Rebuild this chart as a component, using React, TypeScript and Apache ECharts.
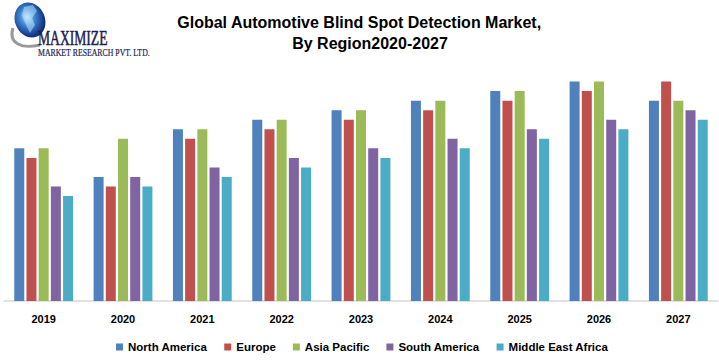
import React, { useEffect, useRef } from "react";
import * as echarts from "echarts";

const years = ["2019", "2020", "2021", "2022", "2023", "2024", "2025", "2026", "2027"];
const regions = ["North America", "Europe", "Asia Pacific", "South America", "Middle East Africa"];
const colors = ["#4F81BD", "#C0504D", "#9BBB59", "#8064A2", "#4BACC6"];

const northAmerica = [16, 13, 18, 19, 20, 21, 22, 23, 21];
const europe = [15, 12, 17, 18, 19, 20, 21, 22, 23];
const asiaPacific = [16, 17, 18, 19, 20, 21, 22, 23, 21];
const southAmerica = [12, 13, 14, 15, 16, 17, 18, 19, 20];
const middleEastAfrica = [11, 12, 13, 14, 15, 16, 17, 18, 19];

const seriesValues = [northAmerica, europe, asiaPacific, southAmerica, middleEastAfrica];

const titleLines = ["Global Automotive Blind Spot Detection Market,", "By Region2020-2027"];

const narrow = "'Liberation Sans Narrow', 'Liberation Sans', Arial, sans-serif";
const serif = "'Liberation Serif', 'DejaVu Serif', serif";

export default function App() {
  const ref = useRef<HTMLDivElement>(null);

  useEffect(() => {
    if (!ref.current) return;
    const chart = echarts.init(ref.current, undefined, { renderer: "svg" });
    chart.setOption({
      animation: false,
      backgroundColor: "#ffffff",
      grid: { left: 4, right: 1, top: 72, bottom: 61, containLabel: false },
      xAxis: {
        type: "category",
        data: years,
        axisLine: { lineStyle: { color: "#D9D9D9", width: 1.5 } },
        axisTick: { show: false },
        axisLabel: {
          color: "#000",
          fontFamily: narrow,
          fontWeight: "bold",
          fontSize: 11,
          margin: 12,
        },
      },
      yAxis: {
        type: "value",
        min: 0,
        max: 24,
        show: false,
        splitLine: { show: false },
      },
      legend: {
        bottom: 4,
        left: 111,
        icon: "rect",
        itemWidth: 7,
        itemHeight: 7,
        itemGap: 17,
        textStyle: { color: "#000", fontFamily: narrow, fontWeight: "bold", fontSize: 11.5 },
        data: regions,
      },
      series: regions.map((name, i) => ({
        name,
        type: "bar",
        data: seriesValues[i],
        barWidth: 10,
        barGap: "22%",
        itemStyle: { color: colors[i] },
      })),
      graphic: [
        {
          type: "text",
          left: "center",
          top: 14,
          style: {
            text: titleLines[0],
            fill: "#000",
            font: `bold 16px ${narrow}`,
          },
        },
        {
          type: "text",
          x: 370,
          y: 35,
          style: {
            text: titleLines[1],
            fill: "#000",
            font: `bold 16px ${narrow}`,
            align: "center",
          },
        },
        // logo: swoosh under the globe
        {
          type: "bezierCurve",
          shape: { x1: 13, y1: 28, cpx1: 8, cpy1: 44, x2: 40, y2: 45, cpx2: 22, cpy2: 49 },
          style: { stroke: "#9a9a9a", lineWidth: 3, fill: null },
        },
        // logo: globe
        {
          type: "ellipse",
          x: 30,
          y: 20,
          rotation: 0.4,
          shape: { cx: 0, cy: 0, rx: 15, ry: 18 },
          style: {
            fill: new echarts.graphic.RadialGradient(0.45, 0.4, 0.7, [
              { offset: 0, color: "#b6e4fb" },
              { offset: 0.35, color: "#3d86d0" },
              { offset: 0.75, color: "#163a8a" },
              { offset: 1, color: "#0a1650" },
            ]),
          },
        },
        {
          type: "polygon",
          shape: { points: [[24, 7], [33, 5], [37, 11], [32, 18], [35, 25], [30, 33], [26, 25], [22, 15]] },
          style: { fill: "rgba(200,235,255,0.5)" },
        },
        {
          type: "text",
          x: 38,
          y: 29,
          scaleX: 0.68,
          style: {
            text: "MAXIMIZE",
            fill: "#1c1c4e",
            stroke: "#1c1c4e",
            lineWidth: 0.5,
            font: `20px ${serif}`,
          },
        },
        {
          type: "text",
          x: 38,
          y: 48,
          scaleX: 0.78,
          style: {
            text: "MARKET RESEARCH PVT. LTD.",
            fill: "#1c1c4e",
            stroke: "#1c1c4e",
            lineWidth: 0.2,
            font: `10px ${serif}`,
          },
        },
      ],
    });
    return () => chart.dispose();
  }, []);

  return (
    <div
      ref={ref}
      style={{ position: "fixed", left: 0, top: 0, width: 719, height: 362 }}
    />
  );
}
